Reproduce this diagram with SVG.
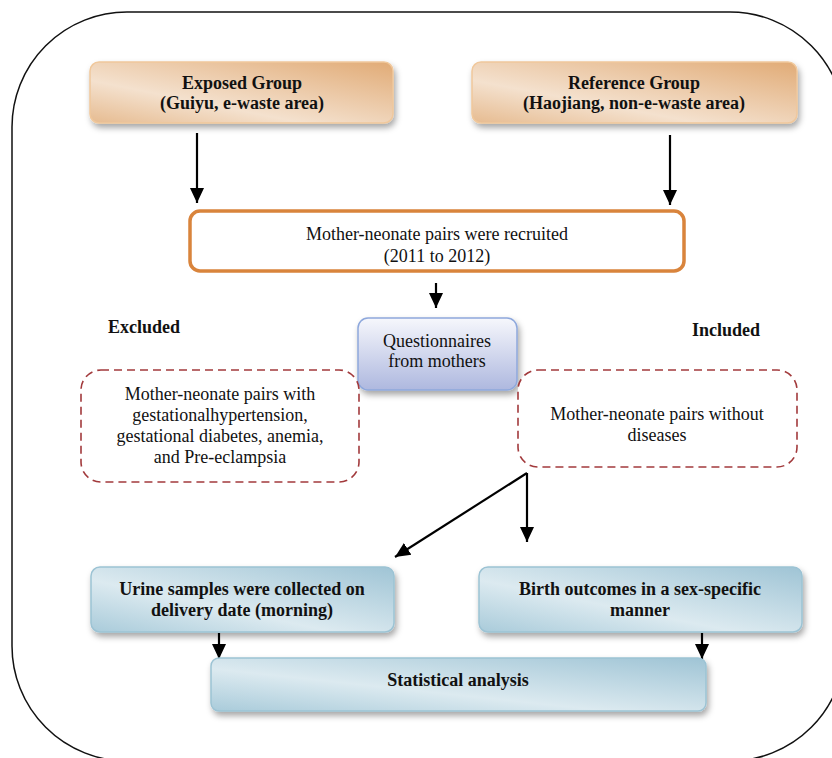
<svg xmlns="http://www.w3.org/2000/svg" width="832" height="758" viewBox="0 0 832 758">
<defs>
<style>
text{font-family:"Liberation Serif","Times New Roman",serif;font-size:18px;fill:#111;}
.b{font-weight:bold;}
.c{stroke:#000;stroke-width:2.2;fill:none;}
.dash{fill:#fff;stroke:#a23a3c;stroke-width:1.6;stroke-dasharray:8 5;}
</style>
<linearGradient id="gOr" x1="0" y1="1" x2="1" y2="0">
<stop offset="0" stop-color="#e6bb90"/>
<stop offset="0.35" stop-color="#f4e1ce"/>
<stop offset="1" stop-color="#e1ab76"/>
</linearGradient>
<linearGradient id="gBl" x1="0" y1="1" x2="1" y2="0">
<stop offset="0" stop-color="#a9cbda"/>
<stop offset="0.4" stop-color="#dceaf0"/>
<stop offset="1" stop-color="#9fc4d5"/>
</linearGradient>
<linearGradient id="gQ" x1="0" y1="0" x2="0" y2="1">
<stop offset="0" stop-color="#f6f7fc"/>
<stop offset="1" stop-color="#aeb8df"/>
</linearGradient>
<filter id="sh" x="-10%" y="-20%" width="125%" height="150%">
<feDropShadow dx="2" dy="4" stdDeviation="3" flood-color="#000" flood-opacity="0.35"/>
</filter>
<marker id="ah" markerUnits="userSpaceOnUse" markerWidth="16" markerHeight="16" viewBox="0 0 16 16" refX="15" refY="8" orient="auto">
<path d="M0,1 L15,8 L0,15 Z" fill="#000"/>
</marker>
</defs>
<rect x="12" y="12" width="833" height="749" rx="115" ry="115" fill="#fff" stroke="#111" stroke-width="1.5"/>

<g id="connectors">
<line class="c" x1="197" y1="133" x2="197" y2="203" marker-end="url(#ah)"/>
<line class="c" x1="670" y1="135" x2="670" y2="205" marker-end="url(#ah)"/>
<line class="c" x1="436" y1="283" x2="436" y2="308" marker-end="url(#ah)"/>
<line class="c" x1="527" y1="473" x2="527" y2="542" marker-end="url(#ah)"/>
<line class="c" x1="527" y1="473" x2="395" y2="557" marker-end="url(#ah)"/>
<line class="c" x1="219" y1="633" x2="219" y2="659" marker-end="url(#ah)"/>
<line class="c" x1="702" y1="633" x2="702" y2="659" marker-end="url(#ah)"/>
</g>

<g id="exposed">
<rect x="90" y="62" width="303" height="61" rx="9" fill="url(#gOr)" stroke="#f0c89c" stroke-width="1.5" filter="url(#sh)"/>
<text class="b" x="242" y="89" text-anchor="middle">Exposed Group</text>
<text class="b" x="242" y="109" text-anchor="middle">(Guiyu, e-waste area)</text>
</g>
<g id="reference">
<rect x="472" y="62" width="325" height="61" rx="9" fill="url(#gOr)" stroke="#f0c89c" stroke-width="1.5" filter="url(#sh)"/>
<text class="b" x="634" y="89" text-anchor="middle">Reference Group</text>
<text class="b" x="634" y="109" text-anchor="middle">(Haojiang, non-e-waste area)</text>
</g>
<g id="recruited">
<rect x="190" y="211" width="494" height="60" rx="10" fill="#fff" stroke="#d9843c" stroke-width="3.5"/>
<text x="437" y="240" text-anchor="middle">Mother-neonate pairs were recruited</text>
<text x="437" y="262" text-anchor="middle">(2011 to 2012)</text>
</g>
<g id="questionnaires">
<rect x="358" y="318" width="159" height="72" rx="10" fill="url(#gQ)" stroke="#8ea8dc" stroke-width="1.5" filter="url(#sh)"/>
<text x="437" y="347" text-anchor="middle">Questionnaires</text>
<text x="437" y="367" text-anchor="middle">from mothers</text>
</g>
<g id="excluded-label">
<text class="b" x="108" y="333">Excluded</text>
</g>
<g id="included-label">
<text class="b" x="692" y="336">Included</text>
</g>
<g id="excluded">
<rect class="dash" x="81" y="370" width="278" height="112" rx="20"/>
<text x="220" y="400" text-anchor="middle">Mother-neonate pairs with</text>
<text x="220" y="421" text-anchor="middle">gestationalhypertension,</text>
<text x="220" y="442" text-anchor="middle">gestational diabetes, anemia,</text>
<text x="220" y="463" text-anchor="middle">and Pre-eclampsia</text>
</g>
<g id="included">
<rect class="dash" x="518" y="370" width="279" height="97" rx="20"/>
<text x="657" y="420" text-anchor="middle">Mother-neonate pairs without</text>
<text x="657" y="441" text-anchor="middle">diseases</text>
</g>
<g id="urine">
<rect x="91" y="567" width="303" height="65" rx="9" fill="url(#gBl)" stroke="#9cc3d4" stroke-width="1.5" filter="url(#sh)"/>
<text class="b" x="242" y="595" text-anchor="middle">Urine samples were collected on</text>
<text class="b" x="242" y="616" text-anchor="middle">delivery date (morning)</text>
</g>
<g id="birth">
<rect x="479" y="567" width="323" height="65" rx="9" fill="url(#gBl)" stroke="#9cc3d4" stroke-width="1.5" filter="url(#sh)"/>
<text class="b" x="640" y="595" text-anchor="middle">Birth outcomes in a sex-specific</text>
<text class="b" x="640" y="616" text-anchor="middle">manner</text>
</g>
<g id="statistical">
<rect x="211" y="658" width="495" height="53" rx="8" fill="url(#gBl)" stroke="#9cc3d4" stroke-width="1.5" filter="url(#sh)"/>
<text class="b" x="458" y="686" text-anchor="middle">Statistical analysis</text>
</g>
</svg>
